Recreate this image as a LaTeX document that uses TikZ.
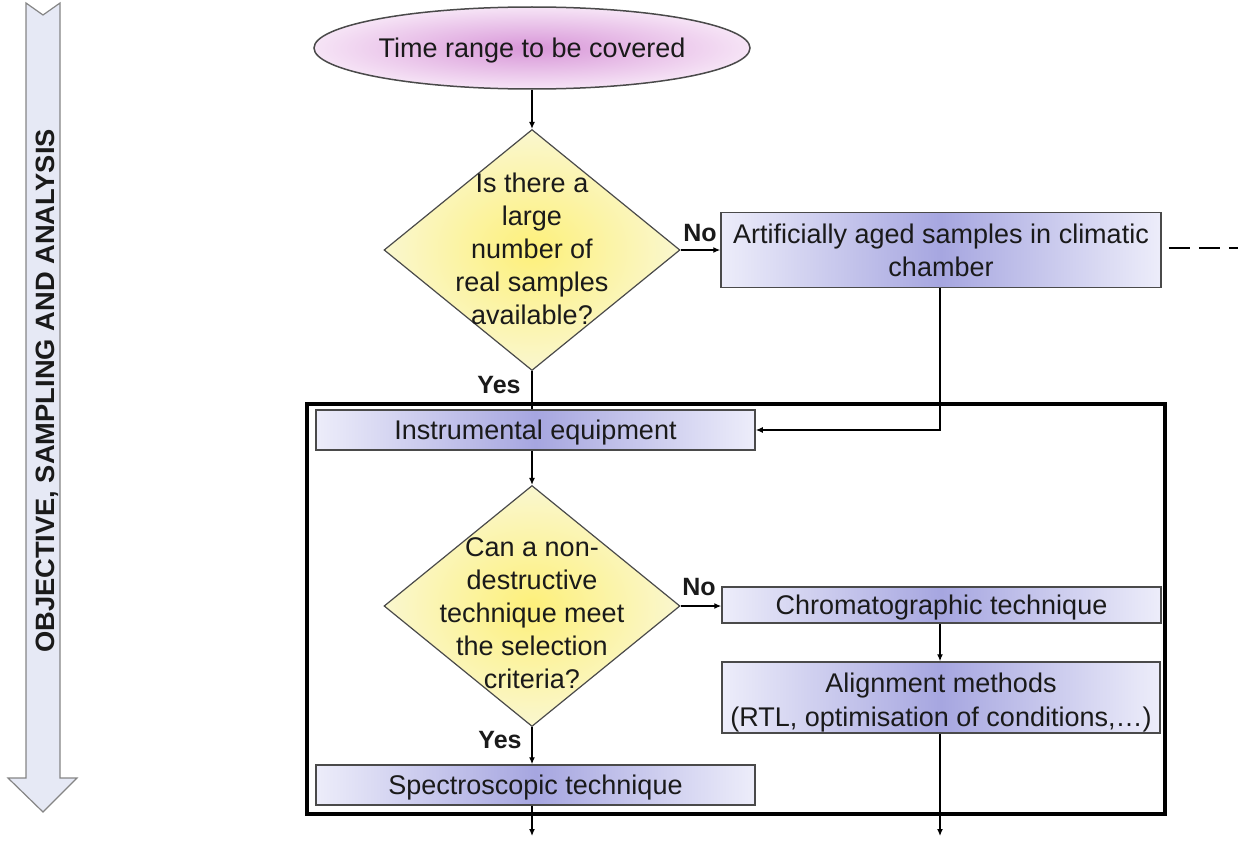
\documentclass[tikz,border=0pt]{standalone}
\usepackage{fontspec}
\setmainfont{Liberation Sans}
\usetikzlibrary{shapes.geometric,arrows.meta}

\definecolor{txt}{HTML}{1A1A1A}
\definecolor{bordergray}{HTML}{4A4A4A}
\definecolor{boxedge}{HTML}{EDEDFA}
\definecolor{boxmid}{HTML}{A6A6E0}
\definecolor{diainner}{HTML}{FDF07A}
\definecolor{diaouter}{HTML}{FAF7CF}
\definecolor{ellinner}{HTML}{D896D8}
\definecolor{ellouter}{HTML}{F6E4F6}
\definecolor{bandfill}{HTML}{E6E9F5}
\definecolor{bandline}{HTML}{858585}

\begin{document}
\begin{tikzpicture}[x=1pt,y=-1pt,
  every node/.style={text=txt},
  procbox/.style={rectangle, draw=bordergray, line width=1.5pt,
    left color=boxedge, right color=boxedge, middle color=boxmid,
    inner sep=0pt, align=center, text depth=0pt,
    font=\fontsize{27}{33}\selectfont},
  decision/.style={diamond, draw=bordergray, line width=1.2pt,
    inner color=diainner, outer color=diaouter, inner sep=0pt,
    minimum width=296pt, minimum height=241pt},
  qtext/.style={align=center, inner sep=0pt, font=\fontsize{27}{33}\selectfont},
  startshape/.style={ellipse, draw=bordergray, line width=1.5pt,
    inner color=ellinner, outer color=ellouter, inner sep=0pt, text depth=0pt,
    minimum width=436pt, minimum height=82pt, font=\fontsize{27}{33}\selectfont},
  yn/.style={font=\bfseries\fontsize{25}{25}\selectfont, inner sep=0pt},
  conn/.style={line width=1.3pt, -{Latex[length=7pt,width=6pt]}},
  plain/.style={line width=1.3pt},
  dashlink/.style={line width=1.5pt, dash pattern=on 21pt off 9pt, dash phase=-7pt},
  frameline/.style={line width=4pt}
]
\useasboundingbox (0,0) rectangle (1238,843);

% side band arrow
\draw[bandline, fill=bandfill, line width=1.2pt, line join=miter]
  (26,3) -- (43,15) -- (60,3) -- (60,778) -- (77,778) -- (43,812)
  -- (8,778) -- (26,778) -- cycle;
\node[rotate=90, font=\bfseries\fontsize{26.5}{26.5}\selectfont, inner sep=0pt]
  (band) at (47,391) {\scalebox{1.03}[1]{OBJECTIVE, SAMPLING AND ANALYSIS}};

% frame around the analysis stage
\draw[frameline] (307,404) rectangle (1165,814);

% nodes
\node[startshape] (start) at (532,48) {Time range to be covered};

\node[decision] (d1) at (532,250) {};
\node[qtext] (q1) at (532,249) {Is there a\\large\\number of\\real samples\\available?};

\node[procbox, minimum width=440pt, minimum height=75pt] (art) at (941,250)
  {Artificially aged samples in climatic\\chamber};

\node[procbox, minimum width=439pt, minimum height=40pt] (inst) at (535.5,430)
  {Instrumental equipment};

\node[decision] (d2) at (532,606) {};
\node[qtext] (q2) at (532,613) {Can a non-\\destructive\\technique meet\\the selection\\criteria?};

\node[procbox, minimum width=439pt, minimum height=36pt] (chrom) at (941.5,605)
  {Chromatographic technique};
\node[procbox, minimum width=438pt, minimum height=71pt] (align) at (941,697.5) {};
\node[qtext, yshift=-5.5pt] (alignlbl) at (align.center)
  {Alignment methods\\[1pt](RTL, optimisation of conditions,…)};

\node[procbox, minimum width=439pt, minimum height=40pt] (spec) at (535.5,785)
  {Spectroscopic technique};

% labels
\node[yn] (no1) at (700,233) {No};
\node[yn] (yes1) at (499,385) {Yes};
\node[yn] (no2) at (699,587) {No};
\node[yn] (yes2) at (500,740) {Yes};

% free ends
\coordinate (out1) at (532,836);
\coordinate (out2) at (940,836);
\coordinate (out3) at (1238,248);

% connectors
\draw[conn] (start.south) -- (d1.north);
\draw[conn] (d1.east) -- (art.west);
\draw[dashlink] (art.east |- out3) -- (out3);
\draw[plain] (d1.south) -- (d1.south |- inst.north);
\draw[conn] (art.south -| out2) -- (out2 |- inst.east) -- (inst.east);
\draw[conn] (inst.south -| d2.north) -- (d2.north);
\draw[conn] (d2.east) -- (d2.east -| chrom.west);
\draw[conn] (chrom.south -| out2) -- (align.north -| out2);
\draw[conn] (align.south -| out2) -- (out2);
\draw[conn] (d2.south) -- (d2.south |- spec.north);
\draw[conn] (spec.south -| out1) -- (out1);
\end{tikzpicture}
\end{document}
